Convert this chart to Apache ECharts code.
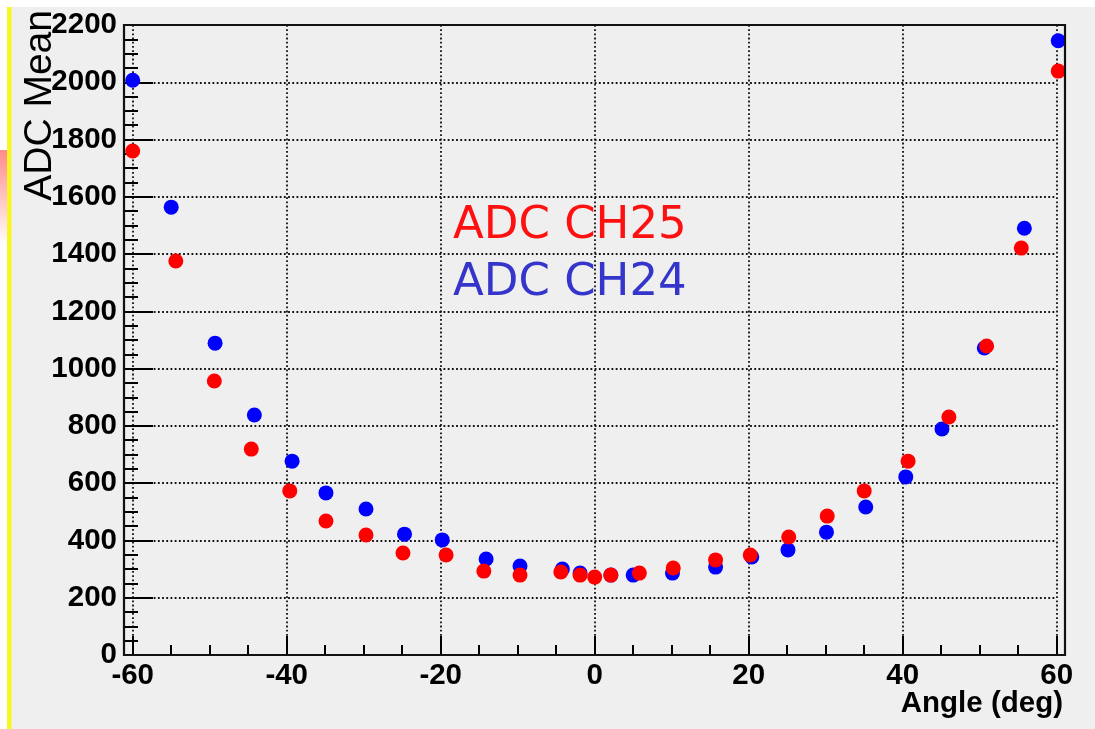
<!DOCTYPE html>
<html>
<head>
<meta charset="utf-8">
<script src="https://cdn.jsdelivr.net/npm/echarts@6/dist/echarts.min.js"></script>
<style>
  html, body { margin: 0; padding: 0; background: #ffffff; }
  #chart { width: 1095px; height: 729px; }
</style>
</head>
<body>
<div id="chart"></div>
<script>
// Scan of ADC mean versus incidence angle for two channels
const angleCH25 = [-60, -54.4, -49.4, -44.6, -39.6, -34.9, -29.7, -24.9, -19.3, -14.4, -9.7, -4.4, -1.9, 0, 2.1, 5.8, 10.2, 15.7, 20.2, 25.2, 30.2, 35.0, 40.7, 46.0, 50.9, 55.4, 60.2];
const meanCH25  = [1760, 1376, 957, 719, 573, 468, 419, 356, 349, 293, 279, 290, 279, 272, 279, 286, 304, 332, 349, 412, 485, 573, 677, 831, 1079, 1421, 2039];

const angleCH24 = [-60, -55.0, -49.3, -44.2, -39.3, -34.9, -29.7, -24.7, -19.8, -14.1, -9.7, -4.2, -1.9, 2.1, 5.0, 10.1, 15.7, 20.4, 25.1, 30.1, 35.2, 40.4, 45.1, 50.6, 55.8, 60.2];
const meanCH24  = [2007, 1564, 1089, 838, 677, 566, 510, 422, 402, 335, 311, 300, 286, 279, 279, 286, 307, 342, 367, 429, 517, 622, 789, 1072, 1490, 2145];

const xTitle = 'Angle (deg)';
const yTitle = 'ADC Mean';
const legendCH25 = 'ADC CH25';
const legendCH24 = 'ADC CH24';

const toPairs = (xs, ys) => xs.map((x, i) => [x, ys[i]]);

const chart = echarts.init(document.getElementById('chart'), null, { renderer: 'canvas' });

const tickFont = { fontFamily: 'Liberation Sans', fontWeight: 'bold', fontSize: 29.5, color: '#000',
                   formatter: v => String(v) };
const dotted = { color: '#111', width: 1.8, type: [1.8, 2.4] };

// frame geometry (pixels)
const FL = 124, FT = 25, FR = 1065, FB = 655;

chart.setOption({
  animation: false,
  backgroundColor: '#ffffff',
  grid: {
    left: 132.7, top: FT, width: 924, height: FB - FT,
    containLabel: false, outerBoundsMode: 'none'
  },
  xAxis: {
    type: 'value', min: -60, max: 60, interval: 20,
    axisLine: { show: false },
    axisTick: { show: true, inside: true, length: 19, lineStyle: { color: '#000', width: 2 } },
    minorTick: { show: true, splitNumber: 4, length: 10, lineStyle: { color: '#000', width: 2 } },
    splitLine: { show: true, lineStyle: dotted },
    minorSplitLine: { show: false },
    axisLabel: Object.assign({ margin: 6 }, tickFont)
  },
  yAxis: {
    type: 'value', min: 0, max: 2200, interval: 200, offset: 8.7,
    axisLine: { show: true, onZero: false, lineStyle: { color: '#000', width: 2 } },
    axisTick: { show: true, inside: true, length: 29, lineStyle: { color: '#000', width: 2 } },
    minorTick: { show: true, splitNumber: 4, length: 14, lineStyle: { color: '#000', width: 2 } },
    splitLine: { show: true, lineStyle: dotted },
    minorSplitLine: { show: false },
    axisLabel: Object.assign({ margin: 7 }, tickFont)
  },
  graphic: [
    // page panel, side stripe and accent
    { type: 'rect', silent: true, z: -10, shape: { x: 11, y: 7, width: 1084, height: 722 }, style: { fill: '#efefef' } },
    { type: 'rect', silent: true, z: -9, shape: { x: 7, y: 7, width: 4.5, height: 722 }, style: { fill: '#f8f820' } },
    { type: 'rect', silent: true, z: -9, shape: { x: 0, y: 150, width: 7, height: 95 },
      style: { fill: new echarts.graphic.LinearGradient(0, 0, 0, 1, [
        { offset: 0, color: '#ff8a8a' }, { offset: 1, color: '#ffffff' }]) } },
    // plot frame
    { type: 'rect', silent: true, z: 5, shape: { x: FL, y: FT, width: FR - FL, height: FB - FT },
      style: { fill: null, stroke: '#111', lineWidth: 2.2 } },
    // axis titles
    { type: 'text', silent: true, z: 6, x: 1063, y: 689,
      style: { text: xTitle, fontFamily: 'Liberation Sans', fontWeight: 'bold', fontSize: 29.5, fill: '#000', align: 'right', verticalAlign: 'top' } },
    { type: 'text', silent: true, z: 6, x: 40, y: 10, rotation: Math.PI / 2,
      style: { text: yTitle, fontFamily: 'Liberation Sans', fontSize: 39, fill: '#000', align: 'right', verticalAlign: 'middle' } },
    // channel labels
    { type: 'text', silent: true, z: 6, x: 453, y: 204,
      style: { text: legendCH25, fontFamily: 'DejaVu Sans', fontSize: 45, fill: '#ff1010', align: 'left', verticalAlign: 'top' } },
    { type: 'text', silent: true, z: 6, x: 453, y: 261,
      style: { text: legendCH24, fontFamily: 'DejaVu Sans', fontSize: 45, fill: '#3535cc', align: 'left', verticalAlign: 'top' } }
  ],
  series: [
    {
      name: legendCH24, type: 'scatter', clip: false, z: 3,
      symbol: 'circle', symbolSize: 15,
      itemStyle: { color: '#0000ff', opacity: 1 },
      data: toPairs(angleCH24, meanCH24)
    },
    {
      name: legendCH25, type: 'scatter', clip: false, z: 4,
      symbol: 'circle', symbolSize: 15,
      itemStyle: { color: '#ff0000', opacity: 1 },
      data: toPairs(angleCH25, meanCH25)
    }
  ]
});
</script>
</body>
</html>
